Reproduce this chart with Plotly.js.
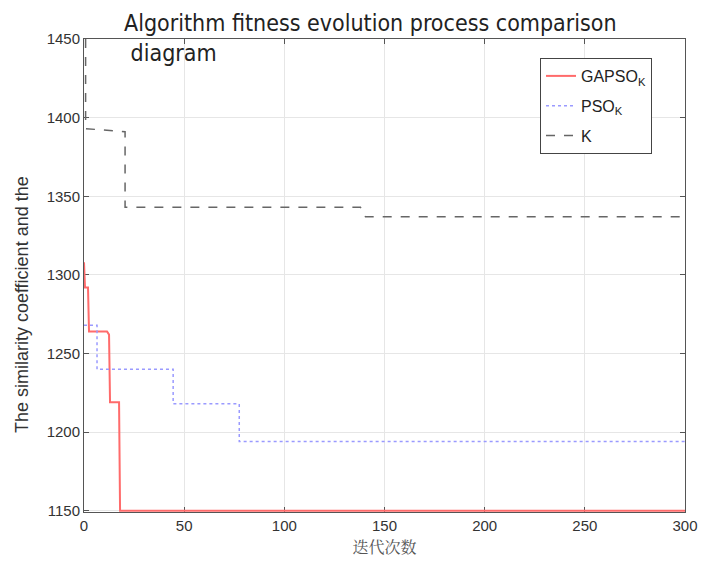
<!DOCTYPE html>
<html>
<head>
<meta charset="utf-8">
<script src="https://cdn.plot.ly/plotly-3.0.1.min.js"></script>
<style>html,body{margin:0;padding:0;background:#fff;}#chart{width:702px;height:568px;}</style>
</head>
<body>
<div id="chart"></div>
<script>
// Series data (iteration, fitness)
const gapsoX = [0, 0.5, 2, 2.5, 11.5, 12.5, 13, 17.5, 18, 300];
const gapsoY = [1308, 1292, 1292, 1264, 1264, 1262, 1219, 1219, 1150, 1150];
const psoX = [0, 6.5, 6.5, 44.5, 44.5, 77.5, 77.5, 300];
const psoY = [1268, 1268, 1240, 1240, 1218, 1218, 1194, 1194];
const kX = [0.8, 0.8, 20.5, 20.5, 138, 140.5, 300];
const kY = [1450, 1393, 1391, 1343, 1343, 1337, 1337];
const seriesNames = ['GAPSO<sub>K</sub>', 'PSO<sub>K</sub>', 'K'];
const xTicks = [0, 50, 100, 150, 200, 250, 300];
const yTicks = [1150, 1200, 1250, 1300, 1350, 1400, 1450];
const titleText = 'Algorithm fitness evolution process comparison<br>&nbsp;diagram';
const xTitle = '迭代次数';
const yTitle = 'The similarity coefficient and the';

const traces = [
  {x: gapsoX, y: gapsoY, name: seriesNames[0], mode: 'lines', legendgroup: 'g1',
   line: {color: '#ff6b6b', width: 2}},
  {x: psoX, y: psoY, name: seriesNames[1], mode: 'lines', legendgroup: 'g2',
   line: {color: '#9a9aff', width: 1.5, dash: 'dot'}},
  {x: kX, y: kY, name: seriesNames[2], mode: 'lines', legendgroup: 'g3',
   line: {color: '#666666', width: 1.5, dash: 'dash'}}
];

const axisCommon = {
  showgrid: true, gridcolor: '#e6e6e6', gridwidth: 1,
  showline: true, linecolor: '#555', linewidth: 1, mirror: 'ticks',
  ticks: 'inside', ticklen: 5, tickcolor: '#555',
  zeroline: false, layer: 'below traces',
  tickfont: {family: 'Liberation Sans, Arial, sans-serif', size: 15, color: '#333'}
};

const layout = {
  width: 702, height: 568,
  margin: {l: 84, r: 17, t: 39, b: 56},
  paper_bgcolor: '#fff', plot_bgcolor: '#fff',
  xaxis: Object.assign({}, axisCommon, {
    range: [0, 300], tickvals: xTicks, ticktext: xTicks.map(String),
    title: {text: xTitle, standoff: 8,
            font: {family: 'Noto Serif CJK SC, Noto Sans CJK SC, serif', size: 16, color: '#555'}}
  }),
  yaxis: Object.assign({}, axisCommon, {
    range: [1149.2, 1450], tickvals: yTicks, ticktext: yTicks.map(String)
  }),
  showlegend: true,
  legend: {x: (540-84)/601, y: 1 - (58-39)/473, xanchor: 'left', yanchor: 'top',
           bgcolor: '#fff', bordercolor: '#444', borderwidth: 1,
           font: {family: 'Liberation Sans, Arial, sans-serif', size: 16, color: '#222'},
           tracegroupgap: 6},
  annotations: [
    {text: titleText, xref: 'paper', yref: 'paper',
     x: (122-84)/601, xanchor: 'left', y: 1 + (39-8)/473, yanchor: 'top', align: 'left',
     showarrow: false,
     font: {family: 'Liberation Sans Narrow, DejaVu Sans Condensed, Arial Narrow, sans-serif', size: 23, color: '#222'}},
    {text: yTitle, xref: 'paper', yref: 'paper',
     x: -0.103, xanchor: 'center', y: 1 - (305-39)/473, yanchor: 'middle',
     textangle: -90, showarrow: false,
     font: {family: 'Liberation Sans, Arial, sans-serif', size: 18, color: '#333'}}
  ]
};

Plotly.newPlot('chart', traces, layout, {displayModeBar: false, staticPlot: true});
</script>
</body>
</html>
